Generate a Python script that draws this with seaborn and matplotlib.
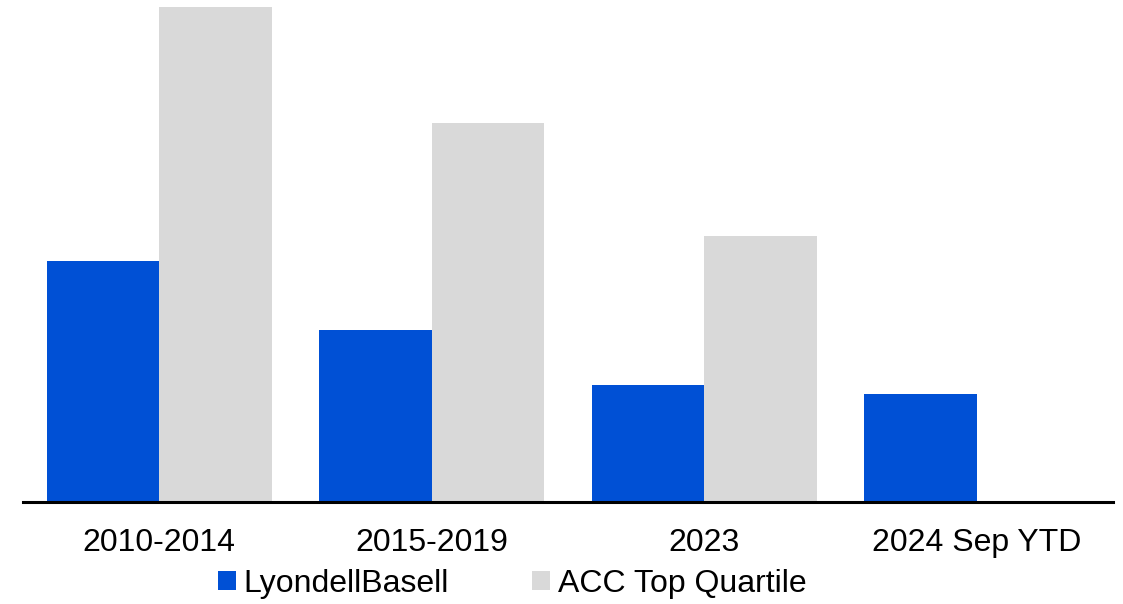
import pandas as pd
import numpy as np
import matplotlib.pyplot as plt
import seaborn as sns

# data (arbitrary units, no axis shown)
periods = ['2010-2014', '2015-2019', '2023', '2024 Sep YTD']
lyb_vals = [0.482, 0.344, 0.234, 0.216]
acc_vals = [0.990, 0.758, 0.532, np.nan]
series = ['LyondellBasell', 'ACC Top Quartile']
colors = ['#0050d5', '#d9d9d9']

df = pd.DataFrame({
    'period': periods * 2,
    'series': [series[0]] * 4 + [series[1]] * 4,
    'value': lyb_vals + acc_vals,
})

sns.set_style('white')
plt.rcParams['font.family'] = ['Liberation Sans', 'DejaVu Sans']
plt.rcParams['text.color'] = 'black'

fig = plt.figure(figsize=(11.23, 6.04), dpi=100)
ax = fig.add_axes([0.0205, 0.169, 0.9705, 0.819])

sns.barplot(data=df, x='period', y='value', hue='series', hue_order=series,
            palette=colors, width=0.826, gap=0, saturation=1, errorbar=None,
            linewidth=0, ax=ax)

ax.set_xlim(-0.5, 3.5)
ax.set_ylim(0, max(acc_vals[:3]))
ax.set_xlabel('')
ax.set_ylabel('')
ax.set_yticks([])
for s in ['top', 'right', 'left']:
    ax.spines[s].set_visible(False)
ax.spines['bottom'].set_linewidth(2.2)
ax.spines['bottom'].set_color('black')
ax.tick_params(axis='x', length=0, pad=19, labelsize=23, colors='black')

ax.legend_.remove()
handles, labels = ax.get_legend_handles_labels()
fig.legend(handles, labels, loc='center', bbox_to_anchor=(0.456, 0.033), ncol=2,
           frameon=False, fontsize=23, handlelength=0.55, handleheight=0.55,
           handletextpad=0.25, columnspacing=2.6, borderaxespad=0, borderpad=0,
           labelcolor='black')

fig.savefig('out.png', dpi=100)
